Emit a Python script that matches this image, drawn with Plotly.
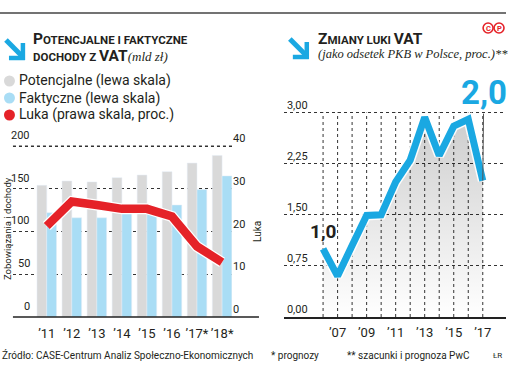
import plotly.graph_objects as go

# ---------------- data ----------------
left_labels = ["’11", "’12", "’13", "’14", "’15", "’16", "’17*", "’18*"]
potential = [154, 159, 158, 163, 166, 170, 180, 189]
actual = [122, 116, 116, 121, 122, 131, 149, 165]
gap_pct = [21.3, 27.0, 26.2, 25.3, 25.3, 23.5, 16.5, 12.8]

left_ticks = [0, 50, 100, 150, 200]
right_ticks = [0, 10, 20, 30, 40]

years = [2006, 2007, 2008, 2009, 2010, 2011, 2012, 2013, 2014, 2015, 2016, 2017]
gap_gdp = [1.0, 0.6, 1.05, 1.49, 1.50, 1.98, 2.30, 2.93, 2.37, 2.80, 2.90, 2.0]
year_ticktext = ["", "’07", "", "’09", "", "’11", "", "’13", "", "’15", "", "’17"]
gdp_ticks = [0, 0.75, 1.5, 2.25, 3.0]
gdp_ticktext = ["0,00", "0,75", "1,50", "2,25", "3,00"]

W, H = 508, 389
def px(x): return x / W
def py(y): return 1 - y / H

GRAY = "#d9d9d9"
LBLUE = "#a9ddf5"
RED = "#e52228"
BLUE = "#1aa8e2"
TXT = "#231f20"
FONT = "Roboto"

L_PPU = 171 / 200.0
R_PPU = 204.5 / 3.0
L_TOP = 224
R_TOP = 3.22
L_DOM = [py(317), py(317 - L_TOP * L_PPU)]

def left_paper_y(v):
    return L_DOM[0] + (L_DOM[1] - L_DOM[0]) * v / L_TOP

fig = go.Figure()

fig.add_trace(go.Bar(x=left_labels, y=potential, marker_color=GRAY, xaxis="x", yaxis="y",
                     showlegend=False, hoverinfo="skip"))
fig.add_trace(go.Bar(x=left_labels, y=actual, marker_color=LBLUE, xaxis="x", yaxis="y",
                     showlegend=False, hoverinfo="skip"))
fig.add_trace(go.Scatter(x=left_labels, y=gap_pct, mode="lines", xaxis="x", yaxis="y2",
                         line=dict(color="white", width=11), showlegend=False, hoverinfo="skip"))
fig.add_trace(go.Scatter(x=left_labels, y=gap_pct, mode="lines", xaxis="x", yaxis="y2",
                         line=dict(color=RED, width=8.5), showlegend=False, hoverinfo="skip"))

fig.add_trace(go.Scatter(x=years, y=gap_gdp, mode="lines", xaxis="x2", yaxis="y3",
                         fill="tozeroy", line=dict(width=0, color="rgba(0,0,0,0)"),
                         fillgradient=dict(type="vertical", start=0, stop=3,
                                           colorscale=[[0, "rgba(0,0,0,0.0)"], [1, "rgba(0,0,0,0.2)"]]),
                         showlegend=False, hoverinfo="skip"))
fig.add_trace(go.Scatter(x=years, y=gap_gdp, mode="lines", xaxis="x2", yaxis="y3",
                         line=dict(color="rgba(255,255,255,0.9)", width=10), showlegend=False, hoverinfo="skip"))
fig.add_trace(go.Scatter(x=years, y=gap_gdp, mode="lines", xaxis="x2", yaxis="y3",
                         line=dict(color=BLUE, width=7), showlegend=False, hoverinfo="skip"))

grid = dict(showgrid=True, gridcolor="#333", gridwidth=1, griddash="dot")

fig.update_layout(
    width=W, height=H, autosize=False,
    margin=dict(l=0, r=0, t=0, b=0, pad=0),
    paper_bgcolor="white", plot_bgcolor="rgba(0,0,0,0)",
    font=dict(family=FONT, color=TXT),
    barmode="group", bargap=0.22, bargroupgap=0,
    xaxis=dict(domain=[px(13), px(233)], range=[-1.35, 7.4], type="category",
               showgrid=False, showline=False, ticks="", zeroline=False, tickangle=0,
               tickfont=dict(size=13, color=TXT), ticklabelstandoff=7, fixedrange=True),
    yaxis=dict(domain=L_DOM, anchor="x", range=[0, L_TOP], autorange=False, tickvals=left_ticks,
               showticklabels=False, zeroline=False, showline=False, ticks="", **grid),
    yaxis2=dict(domain=L_DOM, side="right", anchor="x", overlaying="y", range=[0, L_TOP / 5.0],
                autorange=False, tickvals=right_ticks,
                ticklabelposition="outside top", tickfont=dict(size=11, color=TXT),
                showgrid=False, zeroline=False, showline=False, ticks=""),
    xaxis2=dict(domain=[px(285), 1], anchor="y3", range=[2003.3, 2018.6],
                tickvals=years, ticktext=year_ticktext, tickfont=dict(size=13, color=TXT),
                showline=True, linecolor="#222", linewidth=1.5, ticks="", zeroline=False,
                tickangle=0, ticklabelstandoff=3, showgrid=False),
    yaxis3=dict(domain=[py(317), py(317 - R_TOP * R_PPU)], anchor="x2", range=[0, R_TOP],
                tickvals=gdp_ticks, ticktext=gdp_ticktext,
                ticklabelposition="inside top", ticklabeloverflow="allow", tickfont=dict(size=11, color=TXT),
                zeroline=False, showline=False, ticks="", **grid),
)

shapes = []
# top value gridline of the left chart (lies above all marks)
yy = left_paper_y(left_ticks[-1])
shapes.append(dict(type="line", xref="paper", yref="paper", x0=px(13), x1=px(233), y0=yy, y1=yy,
                   line=dict(color="#333", width=1, dash="dot"), layer="above"))
for yr in years:
    shapes.append(dict(type="line", xref="x2", yref="y3", x0=yr, x1=yr, y0=0, y1=gdp_ticks[-1],
                       line=dict(color="#333", width=1, dash="dot"), layer="below"))
shapes.append(dict(type="line", xref="paper", yref="paper", x0=0, x1=1, y0=py(13), y1=py(13),
                   line=dict(color="#444", width=1.5)))
shapes.append(dict(type="line", xref="paper", yref="paper", x0=px(13), x1=px(260), y0=py(317), y1=py(317),
                   line=dict(color="#222", width=1.5)))
def arrow(dx, dy):
    return [
        dict(type="line", xref="paper", yref="paper", x0=px(6 + dx), y0=py(40 + dy), x1=px(22 + dx), y1=py(56 + dy),
             line=dict(color=BLUE, width=5)),
        dict(type="line", xref="paper", yref="paper", x0=px(23 + dx), y0=py(43 + dy), x1=px(23 + dx), y1=py(60 + dy),
             line=dict(color=BLUE, width=4.5)),
        dict(type="line", xref="paper", yref="paper", x0=px(9 + dx), y0=py(58 + dy), x1=px(25 + dx), y1=py(58 + dy),
             line=dict(color=BLUE, width=4.5)),
    ]
shapes += arrow(0, 0)
shapes += arrow(285, -1)
for cy, col in [(81, GRAY), (98, LBLUE), (115, RED)]:
    shapes.append(dict(type="circle", xref="paper", yref="paper", x0=px(4), x1=px(15), y0=py(cy - 5.5), y1=py(cy + 5.5),
                       fillcolor=col, line=dict(width=0)))
for cx in (490, 501):
    shapes.append(dict(type="circle", xref="paper", yref="paper", x0=px(cx - 5), x1=px(cx + 5),
                       y0=py(28 - 5), y1=py(28 + 5), line=dict(color="#e52228", width=1.6)))
fig.update_layout(shapes=shapes)

ann = []
def text(x, y, t, size, color=TXT, family=FONT, xanchor="left", **kw):
    ann.append(dict(x=px(x), y=py(y), xref="paper", yref="paper", text=t, showarrow=False,
                    xanchor=xanchor, yanchor="middle", font=dict(size=size, color=color, family=family), **kw))

for v in left_ticks:
    ann.append(dict(x=px(32), xref="paper", y=left_paper_y(v), yref="paper", text=str(v), showarrow=False,
                    xanchor="right", yanchor="bottom", yshift=2, font=dict(size=11, color=TXT, family=FONT)))

SERIF = "Liberation Serif"
text(31, 39, "<b>P<span style='font-size:11.5px'>OTENCJALNE I FAKTYCZNE</span></b>", 15.5)
text(31, 56, "<b><span style='font-size:11.5px'>DOCHODY Z </span>VAT</b>"
             "<span style='font-family:Liberation Serif;font-style:italic;font-size:13px'>(mld zł)</span>", 15.5)
text(17, 81, "Potencjalne (lewa skala)", 14)
text(17, 98, "Faktyczne (lewa skala)", 14)
text(17, 115, "Luka (prawa skala, proc.)", 14)
ann.append(dict(x=px(7), y=py(228), xref="paper", yref="paper", text="Zobowiązania i dochody", showarrow=False,
                textangle=-90, font=dict(size=9.5, color=TXT, family=FONT), xanchor="center", yanchor="middle"))
ann.append(dict(x=px(258), y=py(231), xref="paper", yref="paper", text="Luka", showarrow=False,
                textangle=-90, font=dict(size=10, color=TXT, family=FONT), xanchor="center", yanchor="middle"))

text(317, 39, "<b>Z<span style='font-size:11.5px'>MIANY LUKI </span>VAT</b>", 15.5)
text(317, 54, "<i>(jako odsetek PKB w Polsce, proc.)**</i>", 12.5, family=SERIF)
text(490, 28.5, "<b>C</b>", 7.5, color="#e52228", xanchor="center")
text(501, 28.5, "<b>P</b>", 7.5, color="#e52228", xanchor="center")

text(0, 355, "Źródło: CASE-Centrum Analiz Społeczno-Ekonomicznych", 10)
text(270, 355, "* prognozy", 10)
text(346, 355, "** szacunki i prognoza PwC", 10)
text(506, 355, "ŁR", 8, xanchor="right")

ann.append(dict(x=years[-1], y=gap_gdp[-1], xref="x2", yref="y3", text="<b>2,0</b>", showarrow=True,
                arrowhead=0, arrowwidth=1, arrowcolor="#555", ax=1, ay=-88, standoff=0,
                font=dict(size=33, color=BLUE, family=FONT)))
ann.append(dict(x=years[0], y=gap_gdp[0], xref="x2", yref="y3", text="<b>1,0</b>", showarrow=False,
                yshift=17, xshift=0, font=dict(size=19, color=TXT, family=FONT)))
fig.update_layout(annotations=ann)

fig.write_html("out.html", config={"displayModeBar": False},
               post_script="document.body.style.margin='0';document.body.style.padding='0';")
